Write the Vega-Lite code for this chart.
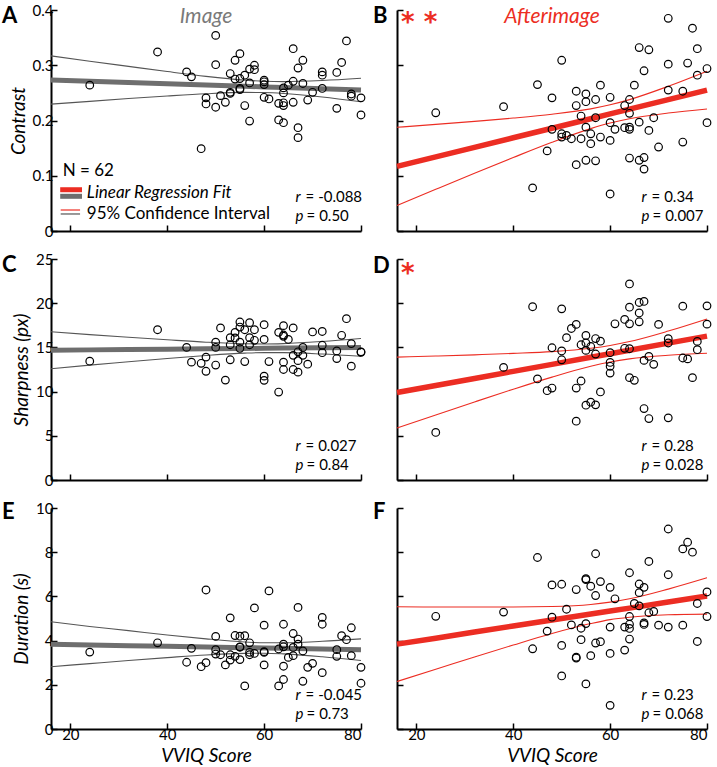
{
  "$schema": "https://vega.github.io/schema/vega-lite/v6.json",
  "padding": {"left": 2, "top": 3, "right": 4, "bottom": 4},
  "background": "white",
  "config": {
    "font": "Lato",
    "view": {"stroke": null},
    "mark": {"invalid": null},
    "axis": {"grid": false, "domainColor": "#000", "domainWidth": 2, "tickColor": "#000", "tickWidth": 1.5, "tickSize": -6, "labelFontSize": 15, "labelColor": "#000", "labelFont": "Lato", "labelOverlap": false, "labelBound": false, "titleFont": "Lato", "titleFontSize": 19, "titleFontStyle": "italic", "titleFontWeight": "normal", "titleColor": "#000", "labelPadding": 4},
    "text": {"font": "Lato"}
  },
  "datasets": {
    "pts": [
      {"vviq": 24, "img_contrast": 0.264, "after_contrast": 0.214, "img_sharp": 13.44, "after_sharp": 5.38, "img_dur": 3.48, "after_dur": 5.10},
      {"vviq": 38, "img_contrast": 0.324, "after_contrast": 0.225, "img_sharp": 17.0, "after_sharp": 12.74, "img_dur": 3.90, "after_dur": 5.29},
      {"vviq": 44, "img_contrast": 0.288, "after_contrast": 0.078, "img_sharp": 15.0, "after_sharp": 19.6, "img_dur": 3.02, "after_dur": 3.63},
      {"vviq": 45, "img_contrast": 0.279, "after_contrast": 0.265, "img_sharp": 13.33, "after_sharp": 11.43, "img_dur": 3.65, "after_dur": 7.76},
      {"vviq": 47, "img_contrast": 0.149, "after_contrast": 0.145, "img_sharp": 13.2, "after_sharp": 10.1, "img_dur": 2.82, "after_dur": 4.43},
      {"vviq": 48, "img_contrast": 0.241, "after_contrast": 0.241, "img_sharp": 13.9, "after_sharp": 14.96, "img_dur": 6.29, "after_dur": 6.52},
      {"vviq": 48, "img_contrast": 0.230, "after_contrast": 0.184, "img_sharp": 12.3, "after_sharp": 10.4, "img_dur": 3.0, "after_dur": 5.06},
      {"vviq": 50, "img_contrast": 0.354, "after_contrast": 0.309, "img_sharp": 15.6, "after_sharp": 19.36, "img_dur": 4.19, "after_dur": 6.55},
      {"vviq": 50, "img_contrast": 0.301, "after_contrast": 0.176, "img_sharp": 15.0, "after_sharp": 14.6, "img_dur": 3.59, "after_dur": 3.78},
      {"vviq": 50, "img_contrast": 0.224, "after_contrast": 0.170, "img_sharp": 13.0, "after_sharp": 13.6, "img_dur": 3.39, "after_dur": 2.40},
      {"vviq": 51, "img_contrast": 0.245, "after_contrast": 0.173, "img_sharp": 17.2, "after_sharp": 16.1, "img_dur": 3.36, "after_dur": 5.42},
      {"vviq": 52, "img_contrast": 0.233, "after_contrast": 0.167, "img_sharp": 11.3, "after_sharp": 17.14, "img_dur": 2.9, "after_dur": 4.71},
      {"vviq": 53, "img_contrast": 0.285, "after_contrast": 0.253, "img_sharp": 16.1, "after_sharp": 17.6, "img_dur": 5.03, "after_dur": 6.31},
      {"vviq": 53, "img_contrast": 0.249, "after_contrast": 0.227, "img_sharp": 15.3, "after_sharp": 10.4, "img_dur": 3.36, "after_dur": 3.21},
      {"vviq": 53, "img_contrast": 0.251, "after_contrast": 0.120, "img_sharp": 13.6, "after_sharp": 6.65, "img_dur": 3.12, "after_dur": 3.25},
      {"vviq": 54, "img_contrast": 0.309, "after_contrast": 0.208, "img_sharp": 16.7, "after_sharp": 15.3, "img_dur": 4.23, "after_dur": 4.56},
      {"vviq": 54, "img_contrast": 0.275, "after_contrast": 0.167, "img_sharp": 16.07, "after_sharp": 11.2, "img_dur": 3.29, "after_dur": 4.04},
      {"vviq": 55, "img_contrast": 0.321, "after_contrast": 0.248, "img_sharp": 17.87, "after_sharp": 16.35, "img_dur": 4.2, "after_dur": 6.8},
      {"vviq": 55, "img_contrast": 0.276, "after_contrast": 0.234, "img_sharp": 17.3, "after_sharp": 15.5, "img_dur": 3.72, "after_dur": 6.76},
      {"vviq": 55, "img_contrast": 0.256, "after_contrast": 0.188, "img_sharp": 15.6, "after_sharp": 14.66, "img_dur": 3.70, "after_dur": 4.77},
      {"vviq": 55, "img_contrast": 0.258, "after_contrast": 0.128, "img_sharp": 14.9, "after_sharp": 8.46, "img_dur": 3.14, "after_dur": 2.04},
      {"vviq": 56, "img_contrast": 0.282, "after_contrast": 0.176, "img_sharp": 17.0, "after_sharp": 15.1, "img_dur": 4.22, "after_dur": 6.46},
      {"vviq": 56, "img_contrast": 0.227, "after_contrast": 0.158, "img_sharp": 13.4, "after_sharp": 8.8, "img_dur": 1.95, "after_dur": 3.32},
      {"vviq": 57, "img_contrast": 0.293, "after_contrast": 0.238, "img_sharp": 17.8, "after_sharp": 16.0, "img_dur": 3.9, "after_dur": 7.93},
      {"vviq": 57, "img_contrast": 0.268, "after_contrast": 0.205, "img_sharp": 16.1, "after_sharp": 14.25, "img_dur": 3.47, "after_dur": 6.04},
      {"vviq": 57, "img_contrast": 0.199, "after_contrast": 0.127, "img_sharp": 15.3, "after_sharp": 8.5, "img_dur": 3.36, "after_dur": 3.89},
      {"vviq": 58, "img_contrast": 0.300, "after_contrast": 0.264, "img_sharp": 17.0, "after_sharp": 15.7, "img_dur": 5.48, "after_dur": 6.67},
      {"vviq": 58, "img_contrast": 0.292, "after_contrast": 0.170, "img_sharp": 15.8, "after_sharp": 9.96, "img_dur": 3.42, "after_dur": 3.95},
      {"vviq": 60, "img_contrast": 0.273, "after_contrast": 0.242, "img_sharp": 17.57, "after_sharp": 14.4, "img_dur": 4.7, "after_dur": 6.41},
      {"vviq": 60, "img_contrast": 0.270, "after_contrast": 0.196, "img_sharp": 15.9, "after_sharp": 13.3, "img_dur": 3.5, "after_dur": 4.61},
      {"vviq": 60, "img_contrast": 0.265, "after_contrast": 0.164, "img_sharp": 11.75, "after_sharp": 12.86, "img_dur": 3.47, "after_dur": 3.42},
      {"vviq": 60, "img_contrast": 0.242, "after_contrast": 0.067, "img_sharp": 11.27, "after_sharp": 12.1, "img_dur": 2.9, "after_dur": 1.07},
      {"vviq": 61, "img_contrast": 0.239, "after_contrast": 0.184, "img_sharp": 13.4, "after_sharp": 17.67, "img_dur": 6.25, "after_dur": 5.89},
      {"vviq": 63, "img_contrast": 0.231, "after_contrast": 0.227, "img_sharp": 16.7, "after_sharp": 18.16, "img_dur": 3.62, "after_dur": 4.61},
      {"vviq": 63, "img_contrast": 0.201, "after_contrast": 0.187, "img_sharp": 9.95, "after_sharp": 14.9, "img_dur": 1.95, "after_dur": 3.57},
      {"vviq": 64, "img_contrast": 0.259, "after_contrast": 0.238, "img_sharp": 17.46, "after_sharp": 22.18, "img_dur": 4.74, "after_dur": 7.07},
      {"vviq": 64, "img_contrast": 0.250, "after_contrast": 0.213, "img_sharp": 16.4, "after_sharp": 19.55, "img_dur": 3.84, "after_dur": 5.09},
      {"vviq": 64, "img_contrast": 0.232, "after_contrast": 0.188, "img_sharp": 16.26, "after_sharp": 17.67, "img_dur": 3.72, "after_dur": 4.74},
      {"vviq": 64, "img_contrast": 0.227, "after_contrast": 0.184, "img_sharp": 13.33, "after_sharp": 14.85, "img_dur": 2.84, "after_dur": 4.55},
      {"vviq": 64, "img_contrast": 0.196, "after_contrast": 0.132, "img_sharp": 12.5, "after_sharp": 11.58, "img_dur": 2.24, "after_dur": 4.07},
      {"vviq": 65, "img_contrast": 0.264, "after_contrast": 0.264, "img_sharp": 15.9, "after_sharp": 11.28, "img_dur": 3.24, "after_dur": 5.68},
      {"vviq": 66, "img_contrast": 0.330, "after_contrast": 0.332, "img_sharp": 17.2, "after_sharp": 20.08, "img_dur": 4.32, "after_dur": 6.56},
      {"vviq": 66, "img_contrast": 0.271, "after_contrast": 0.197, "img_sharp": 14.1, "after_sharp": 18.9, "img_dur": 3.69, "after_dur": 6.17},
      {"vviq": 66, "img_contrast": 0.233, "after_contrast": 0.128, "img_sharp": 12.5, "after_sharp": 17.9, "img_dur": 3.32, "after_dur": 5.57},
      {"vviq": 67, "img_contrast": 0.295, "after_contrast": 0.290, "img_sharp": 14.5, "after_sharp": 20.2, "img_dur": 5.5, "after_dur": 6.41},
      {"vviq": 67, "img_contrast": 0.187, "after_contrast": 0.133, "img_sharp": 13.5, "after_sharp": 13.53, "img_dur": 4.07, "after_dur": 4.8},
      {"vviq": 67, "img_contrast": 0.169, "after_contrast": 0.112, "img_sharp": 12.2, "after_sharp": 8.08, "img_dur": 3.84, "after_dur": 4.73},
      {"vviq": 68, "img_contrast": 0.309, "after_contrast": 0.328, "img_sharp": 15.0, "after_sharp": 13.98, "img_dur": 3.53, "after_dur": 7.58},
      {"vviq": 68, "img_contrast": 0.267, "after_contrast": 0.182, "img_sharp": 14.1, "after_sharp": 6.95, "img_dur": 2.16, "after_dur": 5.26},
      {"vviq": 69, "img_contrast": 0.237, "after_contrast": 0.205, "img_sharp": 13.1, "after_sharp": 13.08, "img_dur": 2.79, "after_dur": 5.32},
      {"vviq": 70, "img_contrast": 0.251, "after_contrast": 0.152, "img_sharp": 16.75, "after_sharp": 17.6, "img_dur": 2.97, "after_dur": 4.7},
      {"vviq": 72, "img_contrast": 0.288, "after_contrast": 0.385, "img_sharp": 16.8, "after_sharp": 15.98, "img_dur": 5.05, "after_dur": 9.05},
      {"vviq": 72, "img_contrast": 0.282, "after_contrast": 0.302, "img_sharp": 15.24, "after_sharp": 15.5, "img_dur": 4.74, "after_dur": 6.98},
      {"vviq": 72, "img_contrast": 0.258, "after_contrast": 0.255, "img_sharp": 14.4, "after_sharp": 7.03, "img_dur": 2.55, "after_dur": 4.61},
      {"vviq": 75, "img_contrast": 0.287, "after_contrast": 0.253, "img_sharp": 14.6, "after_sharp": 19.66, "img_dur": 3.59, "after_dur": 8.15},
      {"vviq": 75, "img_contrast": 0.222, "after_contrast": 0.161, "img_sharp": 13.74, "after_sharp": 13.8, "img_dur": 3.29, "after_dur": 4.7},
      {"vviq": 76, "img_contrast": 0.305, "after_contrast": 0.304, "img_sharp": 16.37, "after_sharp": 13.7, "img_dur": 4.22, "after_dur": 8.45},
      {"vviq": 77, "img_contrast": 0.344, "after_contrast": 0.367, "img_sharp": 18.25, "after_sharp": 11.58, "img_dur": 4.04, "after_dur": 8.0},
      {"vviq": 78, "img_contrast": 0.248, "after_contrast": 0.330, "img_sharp": 15.43, "after_sharp": 15.68, "img_dur": 4.58, "after_dur": 5.68},
      {"vviq": 78, "img_contrast": 0.244, "after_contrast": 0.282, "img_sharp": 12.88, "after_sharp": 14.74, "img_dur": 3.32, "after_dur": 3.96},
      {"vviq": 80, "img_contrast": 0.241, "after_contrast": 0.294, "img_sharp": 14.5, "after_sharp": 19.7, "img_dur": 2.79, "after_dur": 6.2},
      {"vviq": 80, "img_contrast": 0.210, "after_contrast": 0.196, "img_sharp": 14.45, "after_sharp": 17.63, "img_dur": 2.07, "after_dur": 5.09}
    ],
    "ci": [
      {"panel": "A", "vviq": 16, "fit": 0.2733, "lo": 0.2296, "hi": 0.3170},
      {"panel": "A", "vviq": 24, "fit": 0.2710, "lo": 0.2347, "hi": 0.3073},
      {"panel": "A", "vviq": 32, "fit": 0.2688, "lo": 0.2397, "hi": 0.2979},
      {"panel": "A", "vviq": 40, "fit": 0.2665, "lo": 0.2444, "hi": 0.2886},
      {"panel": "A", "vviq": 48, "fit": 0.2642, "lo": 0.2485, "hi": 0.2799},
      {"panel": "A", "vviq": 56, "fit": 0.2620, "lo": 0.2509, "hi": 0.2731},
      {"panel": "A", "vviq": 60, "fit": 0.2608, "lo": 0.2506, "hi": 0.2710},
      {"panel": "A", "vviq": 64, "fit": 0.2597, "lo": 0.2490, "hi": 0.2704},
      {"panel": "A", "vviq": 72, "fit": 0.2575, "lo": 0.2426, "hi": 0.2724},
      {"panel": "A", "vviq": 80, "fit": 0.2552, "lo": 0.2340, "hi": 0.2764},
      {"panel": "B", "vviq": 16, "fit": 0.1170, "lo": 0.0463, "hi": 0.1877},
      {"panel": "B", "vviq": 24, "fit": 0.1342, "lo": 0.0755, "hi": 0.1929},
      {"panel": "B", "vviq": 32, "fit": 0.1515, "lo": 0.1045, "hi": 0.1985},
      {"panel": "B", "vviq": 40, "fit": 0.1687, "lo": 0.1330, "hi": 0.2044},
      {"panel": "B", "vviq": 48, "fit": 0.1860, "lo": 0.1606, "hi": 0.2114},
      {"panel": "B", "vviq": 56, "fit": 0.2032, "lo": 0.1853, "hi": 0.2211},
      {"panel": "B", "vviq": 60, "fit": 0.2119, "lo": 0.1954, "hi": 0.2284},
      {"panel": "B", "vviq": 64, "fit": 0.2205, "lo": 0.2032, "hi": 0.2378},
      {"panel": "B", "vviq": 72, "fit": 0.2377, "lo": 0.2135, "hi": 0.2619},
      {"panel": "B", "vviq": 80, "fit": 0.2550, "lo": 0.2208, "hi": 0.2892},
      {"panel": "C", "vviq": 16, "fit": 14.68, "lo": 12.59, "hi": 16.77},
      {"panel": "C", "vviq": 24, "fit": 14.72, "lo": 12.99, "hi": 16.45},
      {"panel": "C", "vviq": 32, "fit": 14.76, "lo": 13.37, "hi": 16.15},
      {"panel": "C", "vviq": 40, "fit": 14.80, "lo": 13.75, "hi": 15.86},
      {"panel": "C", "vviq": 48, "fit": 14.84, "lo": 14.09, "hi": 15.59},
      {"panel": "C", "vviq": 56, "fit": 14.88, "lo": 14.35, "hi": 15.41},
      {"panel": "C", "vviq": 60, "fit": 14.90, "lo": 14.41, "hi": 15.39},
      {"panel": "C", "vviq": 64, "fit": 14.92, "lo": 14.41, "hi": 15.43},
      {"panel": "C", "vviq": 72, "fit": 14.96, "lo": 14.25, "hi": 15.67},
      {"panel": "C", "vviq": 80, "fit": 15.00, "lo": 13.99, "hi": 16.01},
      {"panel": "D", "vviq": 16, "fit": 9.89, "lo": 5.88, "hi": 13.90},
      {"panel": "D", "vviq": 24, "fit": 10.69, "lo": 7.36, "hi": 14.02},
      {"panel": "D", "vviq": 32, "fit": 11.49, "lo": 8.83, "hi": 14.16},
      {"panel": "D", "vviq": 40, "fit": 12.29, "lo": 10.27, "hi": 14.32},
      {"panel": "D", "vviq": 48, "fit": 13.08, "lo": 11.64, "hi": 14.52},
      {"panel": "D", "vviq": 56, "fit": 13.88, "lo": 12.86, "hi": 14.90},
      {"panel": "D", "vviq": 60, "fit": 14.28, "lo": 13.34, "hi": 15.22},
      {"panel": "D", "vviq": 64, "fit": 14.68, "lo": 13.70, "hi": 15.66},
      {"panel": "D", "vviq": 72, "fit": 15.48, "lo": 14.11, "hi": 16.85},
      {"panel": "D", "vviq": 80, "fit": 16.28, "lo": 14.34, "hi": 18.22},
      {"panel": "E", "vviq": 16, "fit": 3.83, "lo": 2.82, "hi": 4.85},
      {"panel": "E", "vviq": 24, "fit": 3.80, "lo": 2.96, "hi": 4.64},
      {"panel": "E", "vviq": 32, "fit": 3.77, "lo": 3.10, "hi": 4.45},
      {"panel": "E", "vviq": 40, "fit": 3.74, "lo": 3.23, "hi": 4.25},
      {"panel": "E", "vviq": 48, "fit": 3.71, "lo": 3.35, "hi": 4.08},
      {"panel": "E", "vviq": 56, "fit": 3.68, "lo": 3.42, "hi": 3.94},
      {"panel": "E", "vviq": 60, "fit": 3.665, "lo": 3.43, "hi": 3.90},
      {"panel": "E", "vviq": 64, "fit": 3.65, "lo": 3.40, "hi": 3.90},
      {"panel": "E", "vviq": 72, "fit": 3.62, "lo": 3.27, "hi": 3.97},
      {"panel": "E", "vviq": 80, "fit": 3.59, "lo": 3.10, "hi": 4.08},
      {"panel": "F", "vviq": 16, "fit": 3.84, "lo": 2.15, "hi": 5.53},
      {"panel": "F", "vviq": 24, "fit": 4.11, "lo": 2.70, "hi": 5.52},
      {"panel": "F", "vviq": 32, "fit": 4.39, "lo": 3.26, "hi": 5.52},
      {"panel": "F", "vviq": 40, "fit": 4.66, "lo": 3.80, "hi": 5.52},
      {"panel": "F", "vviq": 48, "fit": 4.93, "lo": 4.32, "hi": 5.54},
      {"panel": "F", "vviq": 56, "fit": 5.20, "lo": 4.77, "hi": 5.63},
      {"panel": "F", "vviq": 60, "fit": 5.34, "lo": 4.95, "hi": 5.74},
      {"panel": "F", "vviq": 64, "fit": 5.47, "lo": 5.06, "hi": 5.89},
      {"panel": "F", "vviq": 72, "fit": 5.75, "lo": 5.17, "hi": 6.33},
      {"panel": "F", "vviq": 80, "fit": 6.02, "lo": 5.20, "hi": 6.84}
    ],
    "notes": [
      {"panel": "A", "letter": "A", "head": "Image", "stars": "", "rs": "r", "ps": "p", "rv": "= -0.088", "pv": "= 0.50"},
      {"panel": "B", "letter": "B", "head": "Afterimage", "stars": "* *", "rs": "r", "ps": "p", "rv": "= 0.34", "pv": "= 0.007"},
      {"panel": "C", "letter": "C", "head": "", "stars": "", "rs": "r", "ps": "p", "rv": "= 0.027", "pv": "= 0.84"},
      {"panel": "D", "letter": "D", "head": "", "stars": "*", "rs": "r", "ps": "p", "rv": "= 0.28", "pv": "= 0.028"},
      {"panel": "E", "letter": "E", "head": "", "stars": "", "rs": "r", "ps": "p", "rv": "= -0.045", "pv": "= 0.73"},
      {"panel": "F", "letter": "F", "head": "", "stars": "", "rs": "r", "ps": "p", "rv": "= 0.23", "pv": "= 0.068"}
    ],
    "legendtext": [
      {"n": "N = 62", "fit": "Linear Regression Fit", "ci": "95% Confidence Interval"}
    ]
  },
  "columns": 2,
  "spacing": {"row": 28, "column": 36},
  "bounds": "flush",
  "concat": [
    {
      "width": 310, "height": 221,
      "layer": [
        {"data": {"name": "ci"}, "transform": [{"filter": "datum.panel == 'A'"}, {"fold": ["lo", "hi"]}],
         "mark": {"type": "line", "color": "#555555", "strokeWidth": 1.1, "interpolate": "monotone"},
         "encoding": {"x": {"field": "vviq", "type": "quantitative", "scale": {"domain": [16, 80], "nice": false, "zero": false}, "axis": {"values": [20, 40, 60, 80], "labels": false, "title": null}}, "detail": {"field": "key", "type": "nominal"}, "y": {"field": "value", "type": "quantitative", "title": "Contrast", "scale": {"domain": [0, 0.4], "nice": false, "zero": true}, "axis": {"values": [0, 0.1, 0.2, 0.3, 0.4], "format": ".1~f"}}}},
        {"data": {"name": "ci"}, "transform": [{"filter": "datum.panel == 'A'"}],
         "mark": {"type": "line", "color": "#6e6e6e", "strokeWidth": 5},
         "encoding": {"x": {"field": "vviq", "type": "quantitative"}, "y": {"field": "fit", "type": "quantitative", "title": "Contrast"}}},
        {"data": {"name": "pts"},
         "mark": {"type": "point", "shape": "circle", "filled": false, "color": "#000", "strokeWidth": 1.2, "size": 58, "opacity": 1},
         "encoding": {"x": {"field": "vviq", "type": "quantitative"}, "y": {"field": "img_contrast", "type": "quantitative", "title": "Contrast"}}},
        {"data": {"name": "notes"}, "transform": [{"filter": "datum.panel == 'A'"}],
         "mark": {"type": "text", "align": "left", "baseline": "top", "dx": -49, "dy": -4, "fontSize": 22, "fontWeight": "bold", "color": "#000"},
         "encoding": {"x": {"datum": 16, "type": "quantitative"}, "y": {"datum": 0.4, "type": "quantitative"}, "text": {"field": "letter"}}},
        {"data": {"name": "notes"}, "transform": [{"filter": "datum.panel == 'A'"}],
         "mark": {"type": "text", "align": "center", "baseline": "top", "dy": -4, "fontSize": 21, "fontStyle": "italic", "color": "#7a7a7a"},
         "encoding": {"x": {"datum": 48, "type": "quantitative"}, "y": {"datum": 0.4, "type": "quantitative"}, "text": {"field": "head"}}},
        {"data": {"name": "notes"}, "transform": [{"filter": "datum.panel == 'A'"}],
         "mark": {"type": "text", "align": "left", "baseline": "middle", "fontSize": 15, "fontStyle": "italic", "color": "#000"},
         "encoding": {"x": {"datum": 66.5, "type": "quantitative"}, "y": {"datum": 0.0615, "type": "quantitative"}, "text": {"field": "rs"}}},
        {"data": {"name": "notes"}, "transform": [{"filter": "datum.panel == 'A'"}],
         "mark": {"type": "text", "align": "left", "baseline": "middle", "dx": 10, "fontSize": 15, "color": "#000"},
         "encoding": {"x": {"datum": 66.5, "type": "quantitative"}, "y": {"datum": 0.0615, "type": "quantitative"}, "text": {"field": "rv"}}},
        {"data": {"name": "notes"}, "transform": [{"filter": "datum.panel == 'A'"}],
         "mark": {"type": "text", "align": "left", "baseline": "middle", "fontSize": 15, "fontStyle": "italic", "color": "#000"},
         "encoding": {"x": {"datum": 66.5, "type": "quantitative"}, "y": {"datum": 0.027, "type": "quantitative"}, "text": {"field": "ps"}}},
        {"data": {"name": "notes"}, "transform": [{"filter": "datum.panel == 'A'"}],
         "mark": {"type": "text", "align": "left", "baseline": "middle", "dx": 11, "fontSize": 15, "color": "#000"},
         "encoding": {"x": {"datum": 66.5, "type": "quantitative"}, "y": {"datum": 0.027, "type": "quantitative"}, "text": {"field": "pv"}}},
        {"data": {"name": "legendtext"},
         "mark": {"type": "text", "align": "left", "baseline": "middle", "fontSize": 17, "color": "#000"},
         "encoding": {"x": {"datum": 18.4, "type": "quantitative"}, "y": {"datum": 0.1077, "type": "quantitative"}, "text": {"field": "n"}}},
        {"data": {"name": "legendtext"},
         "mark": {"type": "rule", "color": "#ec2d23", "strokeWidth": 5},
         "encoding": {"x": {"datum": 17.9, "type": "quantitative"}, "x2": {"datum": 22.4}, "y": {"datum": 0.0747, "type": "quantitative"}}},
        {"data": {"name": "legendtext"},
         "mark": {"type": "rule", "color": "#6e6e6e", "strokeWidth": 5},
         "encoding": {"x": {"datum": 17.9, "type": "quantitative"}, "x2": {"datum": 22.4}, "y": {"datum": 0.0628, "type": "quantitative"}}},
        {"data": {"name": "legendtext"},
         "mark": {"type": "text", "align": "left", "baseline": "middle", "fontSize": 17, "fontStyle": "italic", "color": "#000"},
         "encoding": {"x": {"datum": 23.4, "type": "quantitative"}, "y": {"datum": 0.068, "type": "quantitative"}, "text": {"field": "fit"}}},
        {"data": {"name": "legendtext"},
         "mark": {"type": "rule", "color": "#ec2d23", "strokeWidth": 1.2},
         "encoding": {"x": {"datum": 18.0, "type": "quantitative"}, "x2": {"datum": 22.0}, "y": {"datum": 0.038, "type": "quantitative"}}},
        {"data": {"name": "legendtext"},
         "mark": {"type": "rule", "color": "#555555", "strokeWidth": 1.2},
         "encoding": {"x": {"datum": 18.0, "type": "quantitative"}, "x2": {"datum": 22.0}, "y": {"datum": 0.0308, "type": "quantitative"}}},
        {"data": {"name": "legendtext"},
         "mark": {"type": "text", "align": "left", "baseline": "middle", "fontSize": 17, "color": "#000"},
         "encoding": {"x": {"datum": 23.4, "type": "quantitative"}, "y": {"datum": 0.031, "type": "quantitative"}, "text": {"field": "ci"}}}
      ]
    },
    {
      "width": 310, "height": 221,
      "layer": [
        {"data": {"name": "ci"}, "transform": [{"filter": "datum.panel == 'B'"}, {"fold": ["lo", "hi"]}],
         "mark": {"type": "line", "color": "#ec2d23", "strokeWidth": 1.1, "interpolate": "monotone"},
         "encoding": {"x": {"field": "vviq", "type": "quantitative", "scale": {"domain": [16, 80], "nice": false, "zero": false}, "axis": {"values": [20, 40, 60, 80], "labels": false, "title": null}}, "detail": {"field": "key", "type": "nominal"}, "y": {"field": "value", "type": "quantitative", "title": null, "scale": {"domain": [0, 0.4], "nice": false, "zero": true}, "axis": {"values": [0, 0.1, 0.2, 0.3, 0.4], "labels": false, "title": null}}}},
        {"data": {"name": "ci"}, "transform": [{"filter": "datum.panel == 'B'"}],
         "mark": {"type": "line", "color": "#ec2d23", "strokeWidth": 5.5},
         "encoding": {"x": {"field": "vviq", "type": "quantitative"}, "y": {"field": "fit", "type": "quantitative", "title": null}}},
        {"data": {"name": "pts"},
         "mark": {"type": "point", "shape": "circle", "filled": false, "color": "#000", "strokeWidth": 1.2, "size": 58, "opacity": 1},
         "encoding": {"x": {"field": "vviq", "type": "quantitative"}, "y": {"field": "after_contrast", "type": "quantitative", "title": null}}},
        {"data": {"name": "notes"}, "transform": [{"filter": "datum.panel == 'B'"}],
         "mark": {"type": "text", "align": "left", "baseline": "top", "dx": -24, "dy": -4, "fontSize": 22, "fontWeight": "bold", "color": "#000"},
         "encoding": {"x": {"datum": 16, "type": "quantitative"}, "y": {"datum": 0.4, "type": "quantitative"}, "text": {"field": "letter"}}},
        {"data": {"name": "notes"}, "transform": [{"filter": "datum.panel == 'B'"}],
         "mark": {"type": "text", "align": "center", "baseline": "top", "dy": -4, "fontSize": 21, "fontStyle": "italic", "color": "#ec2d23"},
         "encoding": {"x": {"datum": 48, "type": "quantitative"}, "y": {"datum": 0.4, "type": "quantitative"}, "text": {"field": "head"}}},
        {"data": {"name": "notes"}, "transform": [{"filter": "datum.panel == 'B'"}],
         "mark": {"type": "text", "align": "left", "baseline": "top", "dx": 4, "dy": 0, "font": "DejaVu Sans", "fontSize": 26, "fontWeight": "bold", "color": "#ec2d23"},
         "encoding": {"x": {"datum": 16, "type": "quantitative"}, "y": {"datum": 0.4, "type": "quantitative"}, "text": {"field": "stars"}}},
        {"data": {"name": "notes"}, "transform": [{"filter": "datum.panel == 'B'"}],
         "mark": {"type": "text", "align": "left", "baseline": "middle", "fontSize": 15, "fontStyle": "italic", "color": "#000"},
         "encoding": {"x": {"datum": 66.5, "type": "quantitative"}, "y": {"datum": 0.0615, "type": "quantitative"}, "text": {"field": "rs"}}},
        {"data": {"name": "notes"}, "transform": [{"filter": "datum.panel == 'B'"}],
         "mark": {"type": "text", "align": "left", "baseline": "middle", "dx": 10, "fontSize": 15, "color": "#000"},
         "encoding": {"x": {"datum": 66.5, "type": "quantitative"}, "y": {"datum": 0.0615, "type": "quantitative"}, "text": {"field": "rv"}}},
        {"data": {"name": "notes"}, "transform": [{"filter": "datum.panel == 'B'"}],
         "mark": {"type": "text", "align": "left", "baseline": "middle", "fontSize": 15, "fontStyle": "italic", "color": "#000"},
         "encoding": {"x": {"datum": 66.5, "type": "quantitative"}, "y": {"datum": 0.027, "type": "quantitative"}, "text": {"field": "ps"}}},
        {"data": {"name": "notes"}, "transform": [{"filter": "datum.panel == 'B'"}],
         "mark": {"type": "text", "align": "left", "baseline": "middle", "dx": 11, "fontSize": 15, "color": "#000"},
         "encoding": {"x": {"datum": 66.5, "type": "quantitative"}, "y": {"datum": 0.027, "type": "quantitative"}, "text": {"field": "pv"}}}
      ]
    },
    {
      "width": 310, "height": 221,
      "layer": [
        {"data": {"name": "ci"}, "transform": [{"filter": "datum.panel == 'C'"}, {"fold": ["lo", "hi"]}],
         "mark": {"type": "line", "color": "#555555", "strokeWidth": 1.1, "interpolate": "monotone"},
         "encoding": {"x": {"field": "vviq", "type": "quantitative", "scale": {"domain": [16, 80], "nice": false, "zero": false}, "axis": {"values": [20, 40, 60, 80], "labels": false, "title": null}}, "detail": {"field": "key", "type": "nominal"}, "y": {"field": "value", "type": "quantitative", "title": "Sharpness (px)", "scale": {"domain": [0, 25], "nice": false, "zero": true}, "axis": {"values": [0, 5, 10, 15, 20, 25]}}}},
        {"data": {"name": "ci"}, "transform": [{"filter": "datum.panel == 'C'"}],
         "mark": {"type": "line", "color": "#6e6e6e", "strokeWidth": 5},
         "encoding": {"x": {"field": "vviq", "type": "quantitative"}, "y": {"field": "fit", "type": "quantitative", "title": "Sharpness (px)"}}},
        {"data": {"name": "pts"},
         "mark": {"type": "point", "shape": "circle", "filled": false, "color": "#000", "strokeWidth": 1.2, "size": 58, "opacity": 1},
         "encoding": {"x": {"field": "vviq", "type": "quantitative"}, "y": {"field": "img_sharp", "type": "quantitative", "title": "Sharpness (px)"}}},
        {"data": {"name": "notes"}, "transform": [{"filter": "datum.panel == 'C'"}],
         "mark": {"type": "text", "align": "left", "baseline": "top", "dx": -49, "dy": -4, "fontSize": 22, "fontWeight": "bold", "color": "#000"},
         "encoding": {"x": {"datum": 16, "type": "quantitative"}, "y": {"datum": 25, "type": "quantitative"}, "text": {"field": "letter"}}},
        {"data": {"name": "notes"}, "transform": [{"filter": "datum.panel == 'C'"}],
         "mark": {"type": "text", "align": "left", "baseline": "middle", "fontSize": 15, "fontStyle": "italic", "color": "#000"},
         "encoding": {"x": {"datum": 66.5, "type": "quantitative"}, "y": {"datum": 3.85, "type": "quantitative"}, "text": {"field": "rs"}}},
        {"data": {"name": "notes"}, "transform": [{"filter": "datum.panel == 'C'"}],
         "mark": {"type": "text", "align": "left", "baseline": "middle", "dx": 10, "fontSize": 15, "color": "#000"},
         "encoding": {"x": {"datum": 66.5, "type": "quantitative"}, "y": {"datum": 3.85, "type": "quantitative"}, "text": {"field": "rv"}}},
        {"data": {"name": "notes"}, "transform": [{"filter": "datum.panel == 'C'"}],
         "mark": {"type": "text", "align": "left", "baseline": "middle", "fontSize": 15, "fontStyle": "italic", "color": "#000"},
         "encoding": {"x": {"datum": 66.5, "type": "quantitative"}, "y": {"datum": 1.7, "type": "quantitative"}, "text": {"field": "ps"}}},
        {"data": {"name": "notes"}, "transform": [{"filter": "datum.panel == 'C'"}],
         "mark": {"type": "text", "align": "left", "baseline": "middle", "dx": 11, "fontSize": 15, "color": "#000"},
         "encoding": {"x": {"datum": 66.5, "type": "quantitative"}, "y": {"datum": 1.7, "type": "quantitative"}, "text": {"field": "pv"}}}
      ]
    },
    {
      "width": 310, "height": 221,
      "layer": [
        {"data": {"name": "ci"}, "transform": [{"filter": "datum.panel == 'D'"}, {"fold": ["lo", "hi"]}],
         "mark": {"type": "line", "color": "#ec2d23", "strokeWidth": 1.1, "interpolate": "monotone"},
         "encoding": {"x": {"field": "vviq", "type": "quantitative", "scale": {"domain": [16, 80], "nice": false, "zero": false}, "axis": {"values": [20, 40, 60, 80], "labels": false, "title": null}}, "detail": {"field": "key", "type": "nominal"}, "y": {"field": "value", "type": "quantitative", "title": null, "scale": {"domain": [0, 25], "nice": false, "zero": true}, "axis": {"values": [0, 5, 10, 15, 20, 25], "labels": false, "title": null}}}},
        {"data": {"name": "ci"}, "transform": [{"filter": "datum.panel == 'D'"}],
         "mark": {"type": "line", "color": "#ec2d23", "strokeWidth": 5.5},
         "encoding": {"x": {"field": "vviq", "type": "quantitative"}, "y": {"field": "fit", "type": "quantitative", "title": null}}},
        {"data": {"name": "pts"},
         "mark": {"type": "point", "shape": "circle", "filled": false, "color": "#000", "strokeWidth": 1.2, "size": 58, "opacity": 1},
         "encoding": {"x": {"field": "vviq", "type": "quantitative"}, "y": {"field": "after_sharp", "type": "quantitative", "title": null}}},
        {"data": {"name": "notes"}, "transform": [{"filter": "datum.panel == 'D'"}],
         "mark": {"type": "text", "align": "left", "baseline": "top", "dx": -24, "dy": -3, "fontSize": 22, "fontWeight": "bold", "color": "#000"},
         "encoding": {"x": {"datum": 16, "type": "quantitative"}, "y": {"datum": 25, "type": "quantitative"}, "text": {"field": "letter"}}},
        {"data": {"name": "notes"}, "transform": [{"filter": "datum.panel == 'D'"}],
         "mark": {"type": "text", "align": "left", "baseline": "top", "dx": 4, "dy": 2, "font": "DejaVu Sans", "fontSize": 26, "fontWeight": "bold", "color": "#ec2d23"},
         "encoding": {"x": {"datum": 16, "type": "quantitative"}, "y": {"datum": 25, "type": "quantitative"}, "text": {"field": "stars"}}},
        {"data": {"name": "notes"}, "transform": [{"filter": "datum.panel == 'D'"}],
         "mark": {"type": "text", "align": "left", "baseline": "middle", "fontSize": 15, "fontStyle": "italic", "color": "#000"},
         "encoding": {"x": {"datum": 66.5, "type": "quantitative"}, "y": {"datum": 3.85, "type": "quantitative"}, "text": {"field": "rs"}}},
        {"data": {"name": "notes"}, "transform": [{"filter": "datum.panel == 'D'"}],
         "mark": {"type": "text", "align": "left", "baseline": "middle", "dx": 10, "fontSize": 15, "color": "#000"},
         "encoding": {"x": {"datum": 66.5, "type": "quantitative"}, "y": {"datum": 3.85, "type": "quantitative"}, "text": {"field": "rv"}}},
        {"data": {"name": "notes"}, "transform": [{"filter": "datum.panel == 'D'"}],
         "mark": {"type": "text", "align": "left", "baseline": "middle", "fontSize": 15, "fontStyle": "italic", "color": "#000"},
         "encoding": {"x": {"datum": 66.5, "type": "quantitative"}, "y": {"datum": 1.7, "type": "quantitative"}, "text": {"field": "ps"}}},
        {"data": {"name": "notes"}, "transform": [{"filter": "datum.panel == 'D'"}],
         "mark": {"type": "text", "align": "left", "baseline": "middle", "dx": 11, "fontSize": 15, "color": "#000"},
         "encoding": {"x": {"datum": 66.5, "type": "quantitative"}, "y": {"datum": 1.7, "type": "quantitative"}, "text": {"field": "pv"}}}
      ]
    },
    {
      "width": 310, "height": 221,
      "layer": [
        {"data": {"name": "ci"}, "transform": [{"filter": "datum.panel == 'E'"}, {"fold": ["lo", "hi"]}],
         "mark": {"type": "line", "color": "#555555", "strokeWidth": 1.1, "interpolate": "monotone"},
         "encoding": {"x": {"field": "vviq", "type": "quantitative", "title": "VVIQ Score", "scale": {"domain": [16, 80], "nice": false, "zero": false}, "axis": {"values": [20, 40, 60, 80], "title": "VVIQ Score"}}, "detail": {"field": "key", "type": "nominal"}, "y": {"field": "value", "type": "quantitative", "title": "Duration (s)", "scale": {"domain": [0, 10], "nice": false, "zero": true}, "axis": {"values": [0, 2, 4, 6, 8, 10]}}}},
        {"data": {"name": "ci"}, "transform": [{"filter": "datum.panel == 'E'"}],
         "mark": {"type": "line", "color": "#6e6e6e", "strokeWidth": 5},
         "encoding": {"x": {"field": "vviq", "type": "quantitative", "title": "VVIQ Score"}, "y": {"field": "fit", "type": "quantitative", "title": "Duration (s)"}}},
        {"data": {"name": "pts"},
         "mark": {"type": "point", "shape": "circle", "filled": false, "color": "#000", "strokeWidth": 1.2, "size": 58, "opacity": 1},
         "encoding": {"x": {"field": "vviq", "type": "quantitative", "title": "VVIQ Score"}, "y": {"field": "img_dur", "type": "quantitative", "title": "Duration (s)"}}},
        {"data": {"name": "notes"}, "transform": [{"filter": "datum.panel == 'E'"}],
         "mark": {"type": "text", "align": "left", "baseline": "top", "dx": -49, "dy": -6, "fontSize": 22, "fontWeight": "bold", "color": "#000"},
         "encoding": {"x": {"datum": 16, "type": "quantitative"}, "y": {"datum": 10, "type": "quantitative"}, "text": {"field": "letter"}}},
        {"data": {"name": "notes"}, "transform": [{"filter": "datum.panel == 'E'"}],
         "mark": {"type": "text", "align": "left", "baseline": "middle", "fontSize": 15, "fontStyle": "italic", "color": "#000"},
         "encoding": {"x": {"datum": 66.5, "type": "quantitative"}, "y": {"datum": 1.54, "type": "quantitative"}, "text": {"field": "rs"}}},
        {"data": {"name": "notes"}, "transform": [{"filter": "datum.panel == 'E'"}],
         "mark": {"type": "text", "align": "left", "baseline": "middle", "dx": 10, "fontSize": 15, "color": "#000"},
         "encoding": {"x": {"datum": 66.5, "type": "quantitative"}, "y": {"datum": 1.54, "type": "quantitative"}, "text": {"field": "rv"}}},
        {"data": {"name": "notes"}, "transform": [{"filter": "datum.panel == 'E'"}],
         "mark": {"type": "text", "align": "left", "baseline": "middle", "fontSize": 15, "fontStyle": "italic", "color": "#000"},
         "encoding": {"x": {"datum": 66.5, "type": "quantitative"}, "y": {"datum": 0.68, "type": "quantitative"}, "text": {"field": "ps"}}},
        {"data": {"name": "notes"}, "transform": [{"filter": "datum.panel == 'E'"}],
         "mark": {"type": "text", "align": "left", "baseline": "middle", "dx": 11, "fontSize": 15, "color": "#000"},
         "encoding": {"x": {"datum": 66.5, "type": "quantitative"}, "y": {"datum": 0.68, "type": "quantitative"}, "text": {"field": "pv"}}}
      ]
    },
    {
      "width": 310, "height": 221,
      "layer": [
        {"data": {"name": "ci"}, "transform": [{"filter": "datum.panel == 'F'"}, {"fold": ["lo", "hi"]}],
         "mark": {"type": "line", "color": "#ec2d23", "strokeWidth": 1.1, "interpolate": "monotone"},
         "encoding": {"x": {"field": "vviq", "type": "quantitative", "title": "VVIQ Score", "scale": {"domain": [16, 80], "nice": false, "zero": false}, "axis": {"values": [20, 40, 60, 80], "title": "VVIQ Score"}}, "detail": {"field": "key", "type": "nominal"}, "y": {"field": "value", "type": "quantitative", "title": null, "scale": {"domain": [0, 10], "nice": false, "zero": true}, "axis": {"values": [0, 2, 4, 6, 8, 10], "labels": false, "title": null}}}},
        {"data": {"name": "ci"}, "transform": [{"filter": "datum.panel == 'F'"}],
         "mark": {"type": "line", "color": "#ec2d23", "strokeWidth": 5.5},
         "encoding": {"x": {"field": "vviq", "type": "quantitative", "title": "VVIQ Score"}, "y": {"field": "fit", "type": "quantitative", "title": null}}},
        {"data": {"name": "pts"},
         "mark": {"type": "point", "shape": "circle", "filled": false, "color": "#000", "strokeWidth": 1.2, "size": 58, "opacity": 1},
         "encoding": {"x": {"field": "vviq", "type": "quantitative", "title": "VVIQ Score"}, "y": {"field": "after_dur", "type": "quantitative", "title": null}}},
        {"data": {"name": "notes"}, "transform": [{"filter": "datum.panel == 'F'"}],
         "mark": {"type": "text", "align": "left", "baseline": "top", "dx": -24, "dy": -6, "fontSize": 22, "fontWeight": "bold", "color": "#000"},
         "encoding": {"x": {"datum": 16, "type": "quantitative"}, "y": {"datum": 10, "type": "quantitative"}, "text": {"field": "letter"}}},
        {"data": {"name": "notes"}, "transform": [{"filter": "datum.panel == 'F'"}],
         "mark": {"type": "text", "align": "left", "baseline": "middle", "fontSize": 15, "fontStyle": "italic", "color": "#000"},
         "encoding": {"x": {"datum": 66.5, "type": "quantitative"}, "y": {"datum": 1.54, "type": "quantitative"}, "text": {"field": "rs"}}},
        {"data": {"name": "notes"}, "transform": [{"filter": "datum.panel == 'F'"}],
         "mark": {"type": "text", "align": "left", "baseline": "middle", "dx": 10, "fontSize": 15, "color": "#000"},
         "encoding": {"x": {"datum": 66.5, "type": "quantitative"}, "y": {"datum": 1.54, "type": "quantitative"}, "text": {"field": "rv"}}},
        {"data": {"name": "notes"}, "transform": [{"filter": "datum.panel == 'F'"}],
         "mark": {"type": "text", "align": "left", "baseline": "middle", "fontSize": 15, "fontStyle": "italic", "color": "#000"},
         "encoding": {"x": {"datum": 66.5, "type": "quantitative"}, "y": {"datum": 0.68, "type": "quantitative"}, "text": {"field": "ps"}}},
        {"data": {"name": "notes"}, "transform": [{"filter": "datum.panel == 'F'"}],
         "mark": {"type": "text", "align": "left", "baseline": "middle", "dx": 11, "fontSize": 15, "color": "#000"},
         "encoding": {"x": {"datum": 66.5, "type": "quantitative"}, "y": {"datum": 0.68, "type": "quantitative"}, "text": {"field": "pv"}}}
      ]
    }
  ]
}
